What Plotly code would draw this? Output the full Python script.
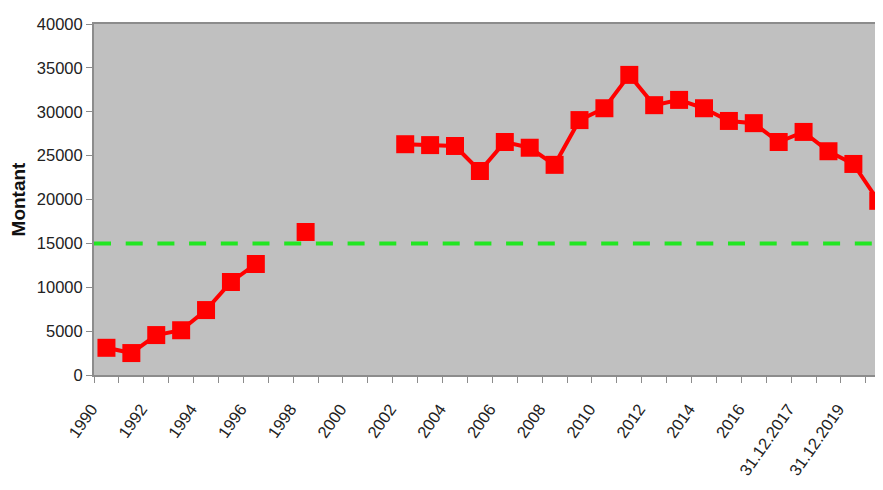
import plotly.graph_objects as go

categories = [str(y) for y in range(1990, 2017)] + [
    "30.06.2017", "31.12.2017", "31.12.2018", "31.12.2019", "31.12.2020"]

montant = [3100, 2500, 4550, 5100, 7400, 10600, 12650, None, 16300, None, None, None,
           26300, 26200, 26100, 23250, 26550, 25900, 23950, 29050, 30400, 34200,
           30750, 31350, 30400, 28950, 28700, 26550, 27700, 25500, 24050, 19850]

seuil = 15000

y_ticks = [0, 5000, 10000, 15000, 20000, 25000, 30000, 35000, 40000]

x_pos = list(range(len(categories)))
label_pos = x_pos[::2]
label_text = categories[::2]

fig = go.Figure()
fig.add_trace(go.Scatter(
    x=x_pos, y=montant, mode="lines+markers", connectgaps=False,
    line=dict(color="#FF0000", width=4),
    marker=dict(symbol="square", size=18, color="#FF0000", line=dict(width=0)),
    showlegend=False, hoverinfo="x+y"))

fig.add_shape(type="line", xref="paper", x0=0, x1=1, yref="y", y0=seuil, y1=seuil,
              line=dict(color="#22E622", width=4, dash="17px,14.7px"), layer="above")

font_family = "Liberation Sans, Arial, sans-serif"
fig.update_layout(
    width=875, height=474,
    margin=dict(l=86, r=0, t=16, b=107),
    paper_bgcolor="white", plot_bgcolor="#C0C0C0",
    font=dict(family=font_family, size=16, color="#222222"),
    xaxis=dict(
        range=[-0.5, 31.19], tickmode="array", tickvals=label_pos,
        ticktext=label_text, ticklabelstandoff=16, ticklabelshift=-15,
        tickangle=-55, ticks="", showgrid=False, zeroline=False, automargin=False,
        showline=True, linecolor="#8C8C8C", linewidth=2, mirror=True,
        tickfont=dict(size=16.5, color="#222222"),
        minor=dict(tick0=-0.5, dtick=1, ticks="outside", ticklen=6,
                   tickcolor="#8C8C8C", tickwidth=1, showgrid=False),
    ),
    yaxis=dict(
        range=[0, 40000], tickmode="array", tickvals=y_ticks,
        ticktext=[str(v) for v in y_ticks], automargin=False,
        ticks="outside", ticklen=6, tickcolor="#8C8C8C", tickwidth=1,
        showgrid=False, zeroline=False,
        showline=True, linecolor="#8C8C8C", linewidth=2, mirror=True,
        tickfont=dict(size=16.5, color="#222222"),
        title=dict(text="<b>Montant</b>", font=dict(size=19, color="#111111"), standoff=7),
    ),
)

fig.write_html("out.html")
